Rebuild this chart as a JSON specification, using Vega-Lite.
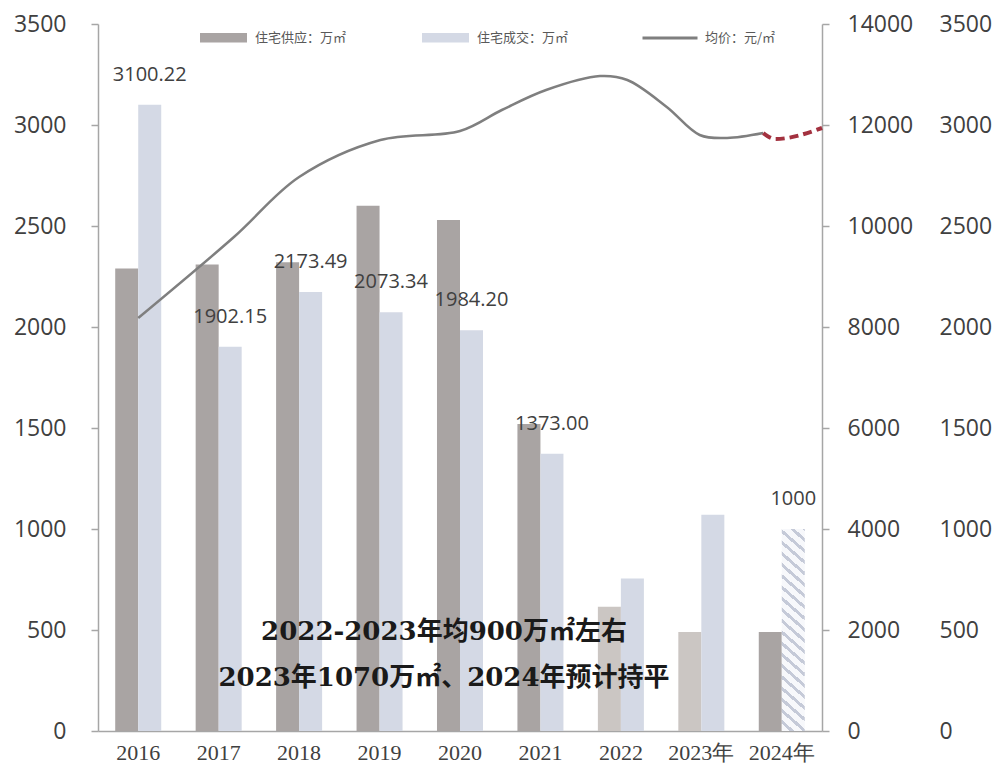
{
  "$schema": "https://vega.github.io/schema/vega-lite/v6.json",
  "width": 724,
  "height": 707,
  "autosize": {"type": "none"},
  "padding": {"left": 98, "top": 24, "right": 179, "bottom": 41},
  "background": "white",
  "config": {"view": {"stroke": null}, "axis": {"grid": false, "title": null}},
  "datasets": {
    "bars": [
      {"year": "2016", "series": "住宅供应：万㎡", "value": 2290},
      {"year": "2016", "series": "住宅成交：万㎡", "value": 3100.22, "label": "3100.22"},
      {"year": "2017", "series": "住宅供应：万㎡", "value": 2310},
      {"year": "2017", "series": "住宅成交：万㎡", "value": 1902.15, "label": "1902.15"},
      {"year": "2018", "series": "住宅供应：万㎡", "value": 2320},
      {"year": "2018", "series": "住宅成交：万㎡", "value": 2173.49, "label": "2173.49"},
      {"year": "2019", "series": "住宅供应：万㎡", "value": 2600},
      {"year": "2019", "series": "住宅成交：万㎡", "value": 2073.34, "label": "2073.34"},
      {"year": "2020", "series": "住宅供应：万㎡", "value": 2530},
      {"year": "2020", "series": "住宅成交：万㎡", "value": 1984.2, "label": "1984.20"},
      {"year": "2021", "series": "住宅供应：万㎡", "value": 1520},
      {"year": "2021", "series": "住宅成交：万㎡", "value": 1373, "label": "1373.00"},
      {"year": "2022", "series": "住宅供应：万㎡", "value": 615},
      {"year": "2022", "series": "住宅成交：万㎡", "value": 755},
      {"year": "2023年", "series": "住宅供应：万㎡", "value": 490},
      {"year": "2023年", "series": "住宅成交：万㎡", "value": 1070},
      {"year": "2024年", "series": "住宅供应：万㎡", "value": 490},
      {"year": "2024年", "series": "住宅成交：万㎡", "value": 1000, "label": "1000"}
    ],
    "price": [
      {"t": 2016.0, "v": 8178, "series": "均价：元/㎡"},
      {"t": 2017.19, "v": 9782, "series": "均价：元/㎡"},
      {"t": 2018.0, "v": 10970, "series": "均价：元/㎡"},
      {"t": 2019.01, "v": 11703, "series": "均价：元/㎡"},
      {"t": 2020.0, "v": 11881, "series": "均价：元/㎡"},
      {"t": 2020.52, "v": 12297, "series": "均价：元/㎡"},
      {"t": 2021.07, "v": 12693, "series": "均价：元/㎡"},
      {"t": 2021.74, "v": 12970, "series": "均价：元/㎡"},
      {"t": 2022.08, "v": 12891, "series": "均价：元/㎡"},
      {"t": 2022.57, "v": 12357, "series": "均价：元/㎡"},
      {"t": 2022.98, "v": 11802, "series": "均价：元/㎡"},
      {"t": 2023.32, "v": 11743, "series": "均价：元/㎡"},
      {"t": 2023.77, "v": 11841, "series": "均价：元/㎡"}
    ],
    "forecast": [
      {"t": 2023.77, "v": 11841},
      {"t": 2023.92, "v": 11723},
      {"t": 2024.5, "v": 11941}
    ],
    "notes": [
      {"year": "2020", "v": 490, "text": "2022-2023年均900万㎡左右"},
      {"year": "2020", "v": 262, "text": "2023年1070万㎡、2024年预计持平"}
    ]
  },
  "layer": [
    {
      "data": {"name": "bars"},
      "layer": [
        {
          "mark": {"type": "bar"},
          "encoding": {
            "x": {
              "field": "year", "type": "nominal",
              "scale": {"domain": ["2016", "2017", "2018", "2019", "2020", "2021", "2022", "2023年", "2024年"], "paddingInner": 0.428, "paddingOuter": 0.214},
              "axis": {"labelAngle": 0, "ticks": false, "domainColor": "#a6a6a6", "domainWidth": 1.5, "labelFont": "Liberation Serif", "labelFontSize": 22, "labelColor": "#404040", "labelPadding": 11}
            },
            "xOffset": {"field": "series", "type": "nominal", "scale": {"domain": ["住宅供应：万㎡", "住宅成交：万㎡"], "paddingInner": 0, "paddingOuter": 0}},
            "y": {
              "field": "value", "type": "quantitative",
              "scale": {"domain": [0, 3500], "nice": false},
              "axis": {"orient": "left", "format": "d", "values": [0, 500, 1000, 1500, 2000, 2500, 3000, 3500], "domainColor": "#a6a6a6", "domainWidth": 1.5, "tickColor": "#a6a6a6", "tickSize": 7, "tickWidth": 1.5, "labelPadding": 25, "labelFont": "Open Sans", "labelFontSize": 23, "labelColor": "#404040"}
            },
            "fill": {
              "condition": [
                {
                  "test": "datum.year === '2024年' && datum.series === '住宅成交：万㎡'",
                  "value": {
                    "gradient": "linear", "x1": 0.11, "y1": -0.1, "x2": 0, "y2": 1,
                    "stops": [
                      {"offset": 0, "color": "#c5cad8"}, {"offset": 0.018, "color": "#c5cad8"}, {"offset": 0.018, "color": "#f7f8fb"}, {"offset": 0.05, "color": "#f7f8fb"},
                      {"offset": 0.05, "color": "#c5cad8"}, {"offset": 0.068, "color": "#c5cad8"}, {"offset": 0.068, "color": "#f7f8fb"}, {"offset": 0.1, "color": "#f7f8fb"},
                      {"offset": 0.1, "color": "#c5cad8"}, {"offset": 0.118, "color": "#c5cad8"}, {"offset": 0.118, "color": "#f7f8fb"}, {"offset": 0.15, "color": "#f7f8fb"},
                      {"offset": 0.15, "color": "#c5cad8"}, {"offset": 0.168, "color": "#c5cad8"}, {"offset": 0.168, "color": "#f7f8fb"}, {"offset": 0.2, "color": "#f7f8fb"},
                      {"offset": 0.2, "color": "#c5cad8"}, {"offset": 0.218, "color": "#c5cad8"}, {"offset": 0.218, "color": "#f7f8fb"}, {"offset": 0.25, "color": "#f7f8fb"},
                      {"offset": 0.25, "color": "#c5cad8"}, {"offset": 0.268, "color": "#c5cad8"}, {"offset": 0.268, "color": "#f7f8fb"}, {"offset": 0.3, "color": "#f7f8fb"},
                      {"offset": 0.3, "color": "#c5cad8"}, {"offset": 0.318, "color": "#c5cad8"}, {"offset": 0.318, "color": "#f7f8fb"}, {"offset": 0.35, "color": "#f7f8fb"},
                      {"offset": 0.35, "color": "#c5cad8"}, {"offset": 0.368, "color": "#c5cad8"}, {"offset": 0.368, "color": "#f7f8fb"}, {"offset": 0.4, "color": "#f7f8fb"},
                      {"offset": 0.4, "color": "#c5cad8"}, {"offset": 0.418, "color": "#c5cad8"}, {"offset": 0.418, "color": "#f7f8fb"}, {"offset": 0.45, "color": "#f7f8fb"},
                      {"offset": 0.45, "color": "#c5cad8"}, {"offset": 0.468, "color": "#c5cad8"}, {"offset": 0.468, "color": "#f7f8fb"}, {"offset": 0.5, "color": "#f7f8fb"},
                      {"offset": 0.5, "color": "#c5cad8"}, {"offset": 0.518, "color": "#c5cad8"}, {"offset": 0.518, "color": "#f7f8fb"}, {"offset": 0.55, "color": "#f7f8fb"},
                      {"offset": 0.55, "color": "#c5cad8"}, {"offset": 0.568, "color": "#c5cad8"}, {"offset": 0.568, "color": "#f7f8fb"}, {"offset": 0.6, "color": "#f7f8fb"},
                      {"offset": 0.6, "color": "#c5cad8"}, {"offset": 0.618, "color": "#c5cad8"}, {"offset": 0.618, "color": "#f7f8fb"}, {"offset": 0.65, "color": "#f7f8fb"},
                      {"offset": 0.65, "color": "#c5cad8"}, {"offset": 0.668, "color": "#c5cad8"}, {"offset": 0.668, "color": "#f7f8fb"}, {"offset": 0.7, "color": "#f7f8fb"},
                      {"offset": 0.7, "color": "#c5cad8"}, {"offset": 0.718, "color": "#c5cad8"}, {"offset": 0.718, "color": "#f7f8fb"}, {"offset": 0.75, "color": "#f7f8fb"},
                      {"offset": 0.75, "color": "#c5cad8"}, {"offset": 0.768, "color": "#c5cad8"}, {"offset": 0.768, "color": "#f7f8fb"}, {"offset": 0.8, "color": "#f7f8fb"},
                      {"offset": 0.8, "color": "#c5cad8"}, {"offset": 0.818, "color": "#c5cad8"}, {"offset": 0.818, "color": "#f7f8fb"}, {"offset": 0.85, "color": "#f7f8fb"},
                      {"offset": 0.85, "color": "#c5cad8"}, {"offset": 0.868, "color": "#c5cad8"}, {"offset": 0.868, "color": "#f7f8fb"}, {"offset": 0.9, "color": "#f7f8fb"},
                      {"offset": 0.9, "color": "#c5cad8"}, {"offset": 0.918, "color": "#c5cad8"}, {"offset": 0.918, "color": "#f7f8fb"}, {"offset": 0.95, "color": "#f7f8fb"},
                      {"offset": 0.95, "color": "#c5cad8"}, {"offset": 0.968, "color": "#c5cad8"}, {"offset": 0.968, "color": "#f7f8fb"}, {"offset": 1, "color": "#f7f8fb"}
                    ]
                  }
                },
                {
                  "test": "(datum.year === '2022' || datum.year === '2023年') && datum.series === '住宅供应：万㎡'",
                  "value": "#cbc6c3"
                }
              ],
              "field": "series", "type": "nominal",
              "scale": {"domain": ["住宅供应：万㎡", "住宅成交：万㎡"], "range": ["#a9a4a3", "#d4d9e5"]},
              "legend": {"orient": "none", "legendX": 102, "legendY": -10, "direction": "horizontal", "title": null, "symbolType": "M-1,-0.2H1V0.2H-1Z", "symbolSize": 2209, "symbolStrokeWidth": 0, "symbolOpacity": 1, "labelFont": "Noto Sans CJK SC", "labelFontSize": 13, "labelColor": "#595959", "labelOffset": 8, "columnPadding": 75}
            }
          }
        },
        {
          "transform": [{"filter": "datum.label"}],
          "mark": {"type": "text", "font": "Open Sans", "fontSize": 20, "color": "#404040", "dy": -30, "baseline": "middle"},
          "encoding": {
            "x": {"field": "year", "type": "nominal"},
            "xOffset": {"field": "series", "type": "nominal"},
            "y": {"field": "value", "type": "quantitative"},
            "text": {"field": "label"}
          }
        },
        {
          "data": {"name": "notes"},
          "mark": {"type": "text", "font": "DejaVu Serif, Noto Sans CJK SC", "fontSize": 26, "fontWeight": "bold", "color": "#1a1a1a", "dx": -16, "baseline": "middle"},
          "encoding": {
            "x": {"field": "year", "type": "nominal"},
            "y": {"field": "v", "type": "quantitative"},
            "text": {"field": "text"}
          }
        }
      ]
    },
    {
      "layer": [
        {
          "data": {"name": "price"},
          "mark": {"type": "line", "interpolate": "catmull-rom", "strokeWidth": 2.5},
          "encoding": {
            "x": {"field": "t", "type": "quantitative", "scale": {"domain": [2015.5, 2024.5], "nice": false, "zero": false}, "axis": null},
            "y": {
              "field": "v", "type": "quantitative",
              "scale": {"domain": [0, 14000], "nice": false},
              "axis": {"orient": "right", "format": "d", "values": [0, 2000, 4000, 6000, 8000, 10000, 12000, 14000], "domainColor": "#a6a6a6", "domainWidth": 1.5, "tickColor": "#a6a6a6", "tickSize": 7, "tickWidth": 1.5, "labelPadding": 18, "labelFont": "Open Sans", "labelFontSize": 23, "labelColor": "#404040"}
            },
            "stroke": {
              "field": "series", "type": "nominal",
              "scale": {"range": ["#7f7f7f"]},
              "legend": {"orient": "none", "legendX": 543, "legendY": -15, "direction": "horizontal", "title": null, "symbolType": "stroke", "symbolSize": 3025, "symbolStrokeWidth": 3, "labelFont": "Noto Sans CJK SC", "labelFontSize": 13, "labelColor": "#595959", "labelOffset": 6}
            }
          }
        },
        {
          "data": {"name": "forecast"},
          "mark": {"type": "line", "interpolate": "monotone", "strokeWidth": 4, "strokeDash": [9, 5], "color": "#a3313f"},
          "encoding": {
            "x": {"field": "t", "type": "quantitative"},
            "y": {"field": "v", "type": "quantitative"}
          }
        }
      ]
    },
    {
      "data": {"name": "bars"},
      "mark": {"type": "point", "opacity": 0},
      "encoding": {
        "y": {
          "field": "value", "type": "quantitative",
          "scale": {"domain": [0, 3500], "nice": false},
          "axis": {"orient": "right", "format": "d", "offset": 112, "values": [0, 500, 1000, 1500, 2000, 2500, 3000, 3500], "domain": false, "ticks": false, "labelPadding": 5, "labelFont": "Open Sans", "labelFontSize": 23, "labelColor": "#404040"}
        }
      }
    }
  ],
  "resolve": {"scale": {"x": "independent", "y": "independent"}}
}
